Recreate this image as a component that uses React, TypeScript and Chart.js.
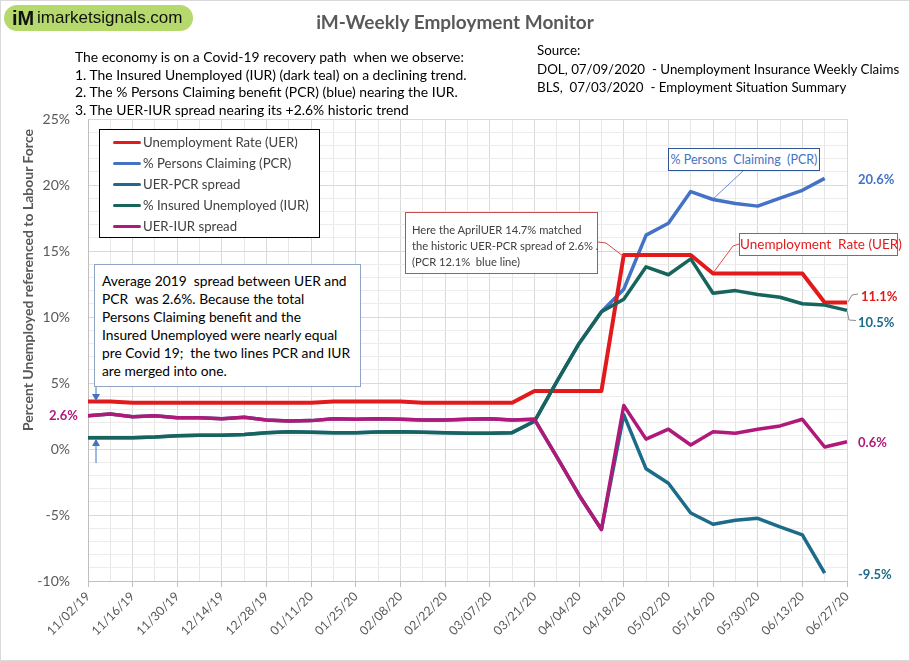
import React, { useEffect, useRef } from 'react';
import { Chart, registerables } from 'chart.js';
Chart.register(...registerables);

const weeks = ['11/02/19','11/09/19','11/16/19','11/23/19','11/30/19','12/07/19','12/14/19','12/21/19','12/28/19','01/04/20','01/11/20','01/18/20','01/25/20','02/01/20','02/08/20','02/15/20','02/22/20','02/29/20','03/07/20','03/14/20','03/21/20','03/28/20','04/04/20','04/11/20','04/18/20','04/25/20','05/02/20','05/09/20','05/16/20','05/23/20','05/30/20','06/06/20','06/13/20','06/20/20','06/27/20'];

const uer = [3.6,3.6,3.5,3.5,3.5,3.5,3.5,3.5,3.5,3.5,3.5,3.6,3.6,3.6,3.6,3.5,3.5,3.5,3.5,3.5,4.4,4.4,4.4,4.4,14.7,14.7,14.7,14.7,13.3,13.3,13.3,13.3,13.3,11.1,11.1];
const pcr = [0.86,0.86,0.86,0.9,1.0,1.05,1.05,1.1,1.24,1.31,1.26,1.24,1.24,1.29,1.31,1.26,1.24,1.19,1.19,1.24,2.1,5.1,8.0,10.4,12.1,16.2,17.1,19.5,18.9,18.6,18.4,19.0,19.6,20.5,null];
const uerPcrSpread = [2.52,2.65,2.45,2.52,2.37,2.37,2.3,2.4,2.2,2.12,2.15,2.3,2.25,2.3,2.25,2.2,2.2,2.25,2.3,2.2,2.25,-0.6,-3.5,-6.1,2.6,-1.5,-2.6,-4.85,-5.7,-5.4,-5.25,-5.9,-6.5,-9.4,null];
const iur = [0.86,0.86,0.86,0.9,1.0,1.05,1.05,1.1,1.24,1.31,1.26,1.24,1.24,1.29,1.31,1.26,1.24,1.19,1.19,1.24,2.1,5.1,8.0,10.4,11.35,13.8,13.2,14.4,11.8,12.0,11.7,11.5,11.0,10.9,10.5];
const uerIurSpread = [2.52,2.65,2.45,2.52,2.37,2.37,2.3,2.4,2.2,2.12,2.15,2.3,2.25,2.3,2.25,2.2,2.2,2.25,2.3,2.2,2.25,-0.6,-3.5,-6.1,3.3,0.75,1.5,0.3,1.3,1.2,1.5,1.75,2.25,0.15,0.55];

const seriesNames = ['Unemployment Rate (UER)','% Persons Claiming (PCR)','UER-PCR spread','% Insured Unemployed (IUR)','UER-IUR spread'];
const seriesColors = ['#E31A1C','#4472C4','#1D6B8A','#17645C','#B0197A'];
const yTickValues = [-10,25];

const W = 910, H = 661;
const AREA_LEFT = 88, AREA_RIGHT = 847, AREA_TOP = 119, AREA_BOTTOM = 581;
const FONT = 'Lato, "Open Sans", sans-serif';

export default function App() {
  const ref = useRef<HTMLCanvasElement | null>(null);
  useEffect(() => {
    if (!ref.current) return;
    const values = [uer, pcr, uerPcrSpread, iur, uerIurSpread];
    const orders = [3, 5, 4, 2, 1];
    const chart = new Chart(ref.current, {
      type: 'line',
      data: {
        labels: weeks,
        datasets: values.map((v, i) => ({
          label: seriesNames[i],
          data: v,
          borderColor: seriesColors[i],
          backgroundColor: seriesColors[i],
          borderWidth: i === 0 ? 4 : 3.5,
          pointRadius: 0,
          tension: 0,
          order: orders[i],
          spanGaps: false,
          borderJoinStyle: 'round' as const,
        })),
      },
      options: {
        responsive: false,
        animation: false,
        events: [],
        layout: { padding: { left: 8, right: W - AREA_RIGHT, top: AREA_TOP, bottom: 0 } },
        plugins: { legend: { display: false }, tooltip: { enabled: false }, title: { display: false } },
        scales: {
          x: {
            type: 'category',
            offset: false,
            border: { color: '#bfbfbf' },
            grid: {
              offset: false,
              color: (ctx: any) => (ctx.index % 2 === 0 ? '#d9d9d9' : '#e6e6e6'),
              tickLength: 6,
              tickColor: (ctx: any) => (ctx.index % 2 === 0 ? '#bfbfbf' : 'rgba(0,0,0,0)'),
            },
            ticks: {
              autoSkip: false,
              minRotation: 45,
              maxRotation: 45,
              padding: 2,
              color: '#595959',
              font: { family: FONT, size: 12.5 },
              callback: (_v: any, i: number) => (i % 2 === 0 ? weeks[i] : ''),
            },
            afterFit: (s: any) => { s.height = H - AREA_BOTTOM; },
          },
          y: {
            min: yTickValues[0],
            max: yTickValues[1],
            border: { color: '#bfbfbf' },
            grid: {
              drawTicks: false,
              color: (ctx: any) => (ctx.tick && ctx.tick.value % 5 === 0 ? '#d9d9d9' : '#ececec'),
            },
            ticks: {
              stepSize: 1,
              maxTicksLimit: 40,
              autoSkip: false,
              padding: 18,
              color: '#595959',
              font: { family: FONT, size: 14 },
              callback: (v: any) => (Number(v) % 5 === 0 ? `${v}%` : ''),
            },
            afterFit: (s: any) => { s.width = AREA_LEFT - 8; },
          },
        },
      },
    });
    return () => chart.destroy();
  }, []);

  const abs = (o: React.CSSProperties): React.CSSProperties => ({ position: 'absolute', margin: 0, ...o });
  const legendRows = seriesNames.map((n, i) => (
    <div key={n} style={abs({ left: 0, top: 3 + i * 21, height: 18, width: 220 })}>
      <div style={abs({ left: 13, top: 7.5, width: 28, height: 3.5, background: seriesColors[i], borderRadius: 2 })} />
      <div style={abs({ left: 43, top: 0, lineHeight: '18px', fontSize: 13.2, color: '#404040', whiteSpace: 'pre' })}>{n}</div>
    </div>
  ));

  return (
    <div style={{ position: 'absolute', left: 0, top: 0, width: W, height: H, background: '#fff', overflow: 'hidden', fontFamily: FONT }}>
      <canvas ref={ref} width={W} height={H} style={{ position: 'absolute', left: 0, top: 0, width: W, height: H }} />
      <div style={abs({ left: 0, top: 0, width: W, height: H, boxSizing: 'border-box', border: '1px solid #d9d9d9', pointerEvents: 'none' })} />

      {/* logo */}
      <div style={abs({ left: 4, top: 5, width: 189, height: 26, borderRadius: 13, background: '#B5D96C' })}>
        <span style={abs({ left: 8, top: 1, fontFamily: '"Liberation Sans", Arial, sans-serif', fontWeight: 'bold', fontSize: 20, lineHeight: '24px', color: '#111' })}>iM</span>
        <span style={abs({ left: 33, top: 2, fontFamily: '"Liberation Sans", Arial, sans-serif', fontSize: 17, lineHeight: '22px', color: '#111' })}>imarketsignals.com</span>
      </div>

      {/* title */}
      <div style={abs({ left: 0, width: W, top: 10, textAlign: 'center', fontSize: 19, fontWeight: 'bold', color: '#595959', lineHeight: '24px' })}>iM-Weekly  Employment  Monitor</div>

      {/* left text */}
      <div style={abs({ left: 75, top: 48, fontSize: 13.9, lineHeight: '17.7px', color: '#000', whiteSpace: 'pre' })}>
        <div>The economy is on a Covid-19 recovery path  when we observe:</div>
        <div>1. The Insured Unemployed (IUR) (dark teal) on a declining trend.</div>
        <div>2. The % Persons Claiming benefit (PCR) (blue) nearing the IUR.</div>
        <div>3. The UER-IUR spread nearing its +2.6% historic trend</div>
      </div>

      {/* right text */}
      <div style={abs({ left: 537, top: 41, fontSize: 13.35, lineHeight: '18.5px', color: '#000', whiteSpace: 'pre' })}>
        <div>Source:</div>
        <div>DOL, 07/09/2020  - Unemployment Insurance Weekly Claims</div>
        <div>BLS,  07/03/2020  - Employment Situation Summary</div>
      </div>

      {/* y axis title */}
      <div style={abs({ left: 28 - 220, top: 280 - 10, width: 440, height: 20, lineHeight: '20px', textAlign: 'center', transform: 'rotate(-90deg)', fontWeight: 'bold', fontSize: 14, color: '#595959', whiteSpace: 'pre' })}>Percent Unemployed referenced to Labour Force</div>

      {/* legend */}
      <div style={abs({ left: 99, top: 129, width: 221, height: 109, boxSizing: 'border-box', border: '1px solid #000', background: '#fff' })}>
        {legendRows}
      </div>

      {/* 2019 note */}
      <div style={abs({ left: 94, top: 264, width: 267, height: 123, boxSizing: 'border-box', border: '1px solid #8EA4C2', background: '#fff', padding: '7px 0 0 7px', fontSize: 13.8, lineHeight: '18px', color: '#000', whiteSpace: 'pre' })}>
        <div>Average 2019  spread between UER and</div>
        <div>PCR  was 2.6%. Because the total</div>
        <div>Persons Claiming benefit and the</div>
        <div>Insured Unemployed were nearly equal</div>
        <div>pre Covid 19;  the two lines PCR and IUR</div>
        <div>are merged into one.</div>
      </div>

      {/* April note */}
      <div style={abs({ left: 405, top: 212, width: 193, height: 62, boxSizing: 'border-box', border: '1px solid #C0504D', background: '#fff', padding: '9px 0 0 6px', fontSize: 11.2, lineHeight: '16px', color: '#404040', whiteSpace: 'pre' })}>
        <div>Here the AprilUER 14.7% matched</div>
        <div>the historic UER-PCR spread of 2.6% .</div>
        <div>(PCR 12.1%  blue line)</div>
      </div>

      {/* series callouts */}
      <div style={abs({ left: 668, top: 148, width: 152, height: 23, boxSizing: 'border-box', border: '1px solid #2F5597', background: '#fff', textAlign: 'center', fontSize: 12.5, lineHeight: '21px', color: '#4472C4', whiteSpace: 'pre' })}>% Persons  Claiming  (PCR)</div>
      <div style={abs({ left: 739, top: 233, width: 159, height: 23, boxSizing: 'border-box', border: '1px solid #C0504D', background: '#fff', textAlign: 'center', fontSize: 13.5, lineHeight: '21px', color: '#E31A1C', whiteSpace: 'pre' })}>Unemployment  Rate (UER)</div>

      {/* end labels */}
      <div style={abs({ left: 858, top: 170, fontSize: 13, fontWeight: 'bold', color: '#4472C4', lineHeight: '18px' })}>20.6%</div>
      <div style={abs({ left: 861, top: 287, fontSize: 13, fontWeight: 'bold', color: '#E31A1C', lineHeight: '18px' })}>11.1%</div>
      <div style={abs({ left: 858, top: 313, fontSize: 13, fontWeight: 'bold', color: '#1D6B8A', lineHeight: '18px' })}>10.5%</div>
      <div style={abs({ left: 858, top: 433, fontSize: 13, fontWeight: 'bold', color: '#B0197A', lineHeight: '18px' })}>0.6%</div>
      <div style={abs({ left: 858, top: 565, fontSize: 13, fontWeight: 'bold', color: '#1D6B8A', lineHeight: '18px' })}>-9.5%</div>
      <div style={abs({ left: 49, top: 406, fontSize: 13, fontWeight: 'bold', color: '#B0197A', lineHeight: '18px' })}>2.6%</div>

      {/* leader lines and arrows */}
      <svg width={W} height={H} style={{ position: 'absolute', left: 0, top: 0, pointerEvents: 'none' }}>
        <defs>
          <marker id="ah" markerWidth="8" markerHeight="8" refX="6" refY="4" orient="auto" markerUnits="userSpaceOnUse">
            <path d="M0,0 L7,4 L0,8 z" fill="#4472C4" />
          </marker>
        </defs>
        <polyline points="598,242 606,243 623,256" fill="none" stroke="#C0504D" strokeWidth="1" />
        <polyline points="743,171 713,199" fill="none" stroke="#4472C4" strokeWidth="0.8" />
        <polyline points="739,244 733,246 713,273" fill="none" stroke="#E31A1C" strokeWidth="0.8" />
        <polyline points="848,302 852,295 858,294" fill="none" stroke="#8c8c8c" strokeWidth="1" />
        <polyline points="847,311 849,320 856,320.5" fill="none" stroke="#8c8c8c" strokeWidth="1" />
        <line x1="96" y1="387" x2="96" y2="400" stroke="#4472C4" strokeWidth="1" markerEnd="url(#ah)" />
        <line x1="96" y1="463" x2="96" y2="440" stroke="#4472C4" strokeWidth="1" markerEnd="url(#ah)" />
      </svg>
    </div>
  );
}
